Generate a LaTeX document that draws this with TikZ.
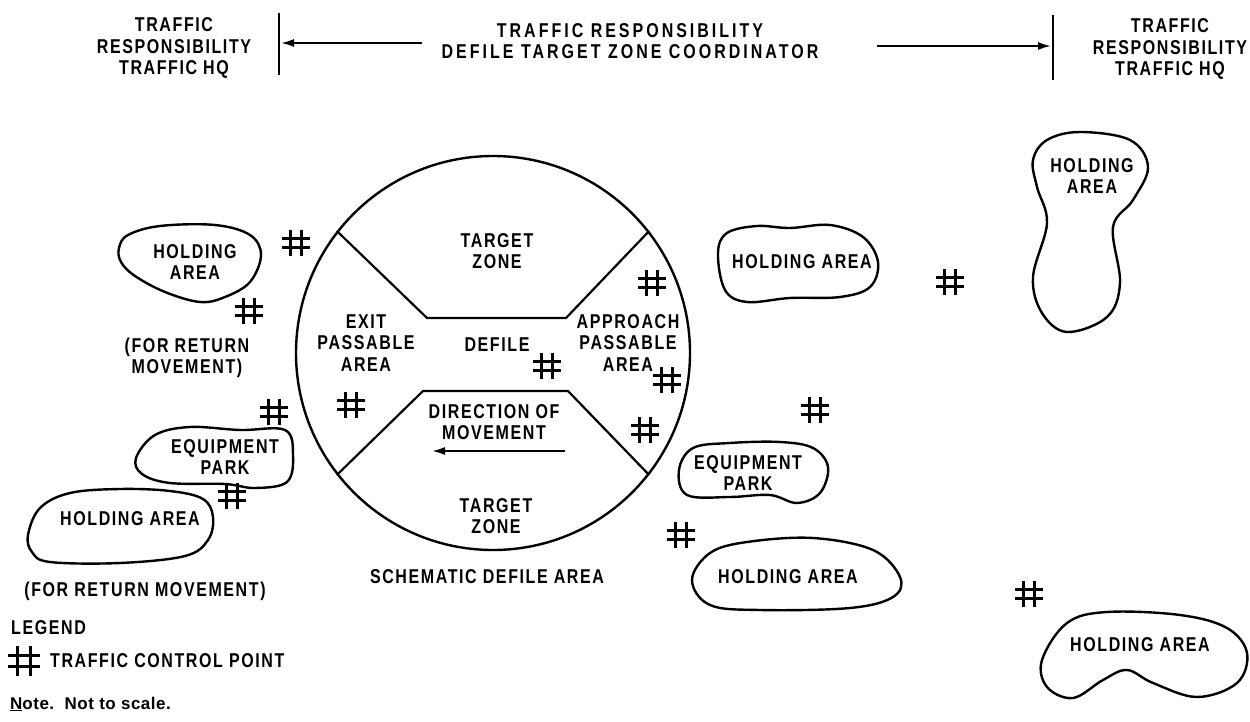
\documentclass[tikz,border=0pt]{standalone}
\usepackage{fontspec}
\usepackage{tikz}
\usetikzlibrary{positioning,arrows.meta}
\newfontfamily\lettering{Liberation Sans}[FakeStretch=0.8,LetterSpace=8]
\newfontfamily\wideletter{Liberation Sans}[FakeStretch=0.8,LetterSpace=15]
\newfontfamily\notefont{Liberation Sans}[LetterSpace=3]
\tikzset{
	lbl/.style={font={\lettering\bfseries\fontsize{20}{21.5}\selectfont}, align=center, inner sep=0pt},
	area/.style={draw=black, line width=2.4pt, line join=round},
	edge/.style={draw=black, line width=2.2pt},
	arr/.style={draw=black, line width=1.8pt, -{Latex[length=13pt,width=8pt]}},
	tcp/.pic={\draw (-5.5,-13) -- (-5.5,13) (5.5,-13) -- (5.5,13) (-14,-4.5) -- (14,-4.5) (-14,4.5) -- (14,4.5);}
}

\begin{document}
\begin{tikzpicture}[x=1pt, y=-1pt]
	\useasboundingbox (0,0) rectangle (1250,722);

	% header
	\node[lbl] (hqleft) at (174,48) {TRAFFIC\\RESPONSIBILITY\\TRAFFIC HQ};
	\node[lbl] (hqright) at (1170,49) {TRAFFIC\\RESPONSIBILITY\\TRAFFIC HQ};
	\node[lbl, font={\wideletter\bfseries\fontsize{20}{21.5}\selectfont}] (dtzc) at (630,41) {TRAFFIC RESPONSIBILITY\\DEFILE TARGET ZONE COORDINATOR};
	\coordinate (tl1) at (279,13);
	\coordinate (tl2) at (279,75);
	\coordinate (tr1) at (1053,15);
	\coordinate (tr2) at (1053,80);
	\coordinate (al) at (281,43);
	\coordinate (ar) at (1051,46);
	\coordinate (als) at (422,43);
	\coordinate (ars) at (877,46);
	\draw[edge] (tl1) -- (tl2);
	\draw[edge] (tr1) -- (tr2);
	\draw[arr] (als) -- (al);
	\draw[arr] (ars) -- (ar);

	% schematic defile area
	\node[circle, draw, line width=2.4pt, minimum size=394pt, inner sep=0pt] (defile) at (493,353) {};
	\coordinate (ul) at (427,318);
	\coordinate (ur) at (566,318);
	\coordinate (ll) at (423,391);
	\coordinate (lr) at (568,391);
	\draw[edge] (defile.142) -- (ul) -- (ur) -- (defile.38);
	\draw[edge] (defile.218) -- (ll) -- (lr) -- (defile.322);

	\node[lbl] (tzone1) at (497,251) {TARGET\\ZONE};
	\node[lbl] (exit) at (366,343) {EXIT\\PASSABLE\\AREA};
	\node[lbl] (defl) at (497,345) {DEFILE};
	\node[lbl] (appr) at (628,343) {APPROACH\\PASSABLE\\AREA};
	\node[lbl] (dir) at (494,422) {DIRECTION OF\\MOVEMENT};
	\coordinate (mvs) at (565,451);
	\coordinate (mve) at (432,451);
	\draw[arr] (mvs) -- (mve);
	\node[lbl] (tzone2) at (496,516) {TARGET\\ZONE};
	\node[lbl] (schem) at (487,577) {SCHEMATIC DEFILE AREA};

	% left side
	\draw[area] plot[smooth cycle, tension=0.6] coordinates {(119,248) (128,235) (160,226) (215,225) (250,235) (261,255) (250,282) (225,297) (200,302) (165,292) (135,276) (121,262)};
	\node[lbl] (hold1) at (195,262) {HOLDING\\AREA};
	\node[lbl] (ret1) at (187,358) {(FOR RETURN\\MOVEMENT)};
	\draw[area] plot[smooth cycle, tension=0.6] coordinates {(136,458) (155,435) (190,427) (240,430) (285,430) (293,455) (287,482) (255,488) (225,484) (170,483) (142,474)};
	\node[lbl] (park1) at (225,457) {EQUIPMENT\\PARK};
	\draw[area] plot[smooth cycle, tension=0.6] coordinates {(28,535) (40,508) (70,493) (120,489) (170,491) (203,499) (213,517) (208,540) (185,556) (120,563) (50,562) (32,552)};
	\node[lbl] (hold2) at (130,519) {HOLDING AREA};
	\node[lbl] (ret2) at (145,591) {(FOR RETURN MOVEMENT)};

	% right side
	\draw[area] plot[smooth cycle, tension=0.6] coordinates {(718,253) (727,233) (757,226) (790,228) (830,225) (863,237) (878,262) (870,287) (840,297) (790,298) (747,302) (725,290)};
	\node[lbl] (hold3) at (802,262) {HOLDING AREA};
	\draw[area] plot[smooth cycle, tension=0.6] coordinates {(1080,132) (1130,140) (1148,167) (1133,200) (1113,227) (1120,283) (1107,317) (1067,332) (1042,313) (1033,277) (1047,223) (1037,187) (1033,160) (1047,140)};
	\node[lbl] (hold4) at (1092,176) {HOLDING\\AREA};
	\draw[area] plot[smooth cycle, tension=0.6] coordinates {(679,470) (693,448) (730,443) (780,442) (813,448) (828,467) (820,493) (797,503) (770,495) (730,497) (687,495)};
	\node[lbl] (park2) at (748,473) {EQUIPMENT\\PARK};
	\draw[area] plot[smooth cycle, tension=0.6] coordinates {(692,580) (710,553) (747,542) (813,538) (873,550) (900,577) (893,597) (850,608) (760,610) (710,605)};
	\node[lbl] (hold5) at (788,577) {HOLDING AREA};
	\draw[area] plot[smooth cycle, tension=0.6] coordinates {(1042,660) (1067,623) (1107,612) (1180,615) (1227,628) (1247,653) (1237,683) (1197,697) (1153,683) (1127,670) (1103,680) (1073,698) (1047,687)};
	\node[lbl] (hold6) at (1140,645) {HOLDING AREA};

	% traffic control points
	\foreach \p in {(296,243),(249,311),(274,412),(232,496),(652,283),(547,366),(667,380),(351,405),(645,430),(681,535),(815,410),(950,282),(1029,594)}
		\pic[line width=2.4pt] at \p {tcp};

	% legend
	\node[lbl, anchor=west] (legend) at (11,628) {LEGEND};
	\pic[scale=1.15, line width=3pt] at (24,661) {tcp};
	\coordinate (tcpkey) at (24,661);
	\node[lbl, anchor=west, right=26pt of tcpkey] (tcptext) {TRAFFIC CONTROL POINT};
	\node[font={\notefont\bfseries\fontsize{17}{20}\selectfont}, anchor=west, inner sep=0pt] (note) at (10,704) {\underline{N}ote.\ \ Not to scale.};
\end{tikzpicture}
\end{document}
